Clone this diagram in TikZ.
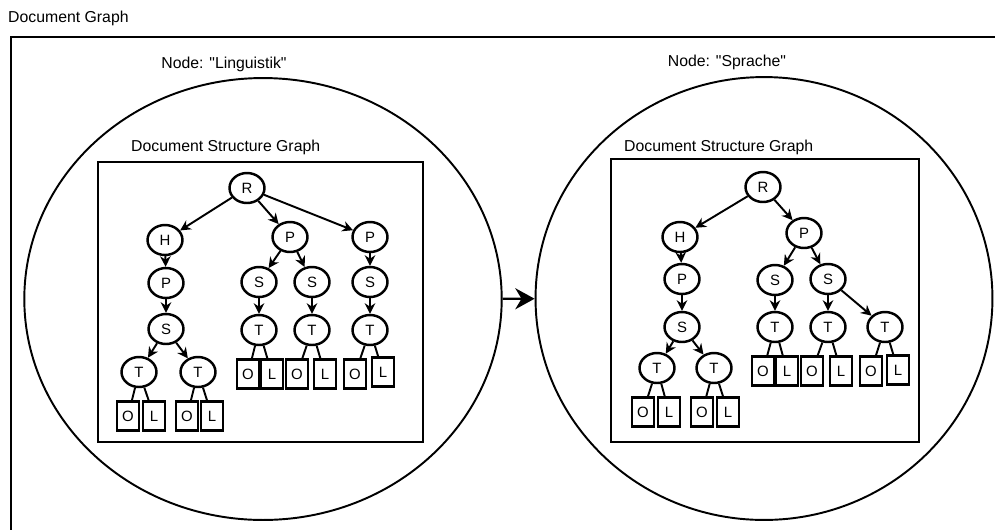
\documentclass[tikz,border=0pt]{standalone}
\usepackage{fontspec}
\setmainfont{Liberation Sans}[Ligatures=TeXOff]
\usetikzlibrary{shapes.geometric, arrows.meta}

\begin{document}
\begin{tikzpicture}[x=0.02cm, y=-0.02cm]
\tikzset{
tnode/.style={draw, ellipse, line width=1.4pt, inner sep=0pt, minimum width=0.7cm, minimum height=0.6cm, font=\fontsize{8.5}{9}\selectfont},
leaf/.style={draw, rectangle, line width=1.4pt, inner sep=0pt, minimum width=0.44cm, minimum height=0.58cm, font=\fontsize{8.5}{9}\selectfont},
bignode/.style={draw, ellipse, line width=1.1pt, inner sep=0pt},
dsgbox/.style={draw, line width=1.4pt},
arr/.style={-{Stealth[length=6pt, width=6pt]}, line width=1.1pt},
leafline/.style={line width=1.1pt},
title/.style={font=\fontsize{9}{11}\selectfont, anchor=west},
caption/.style={font=\fontsize{9}{11}\selectfont}
}

	% page and outer frame
	\useasboundingbox (0,0) rectangle (995,529);
	\clip (0,0) rectangle (995,529);
	\node[title] at (2,18) (dg) {Document Graph};
	\draw[dsgbox] (11,37) rectangle (1010,545);

	% the two graph nodes
	\node[bignode, minimum width=9.55cm, minimum height=8.84cm] at (263,299) (ling) {};
	\node[bignode, minimum width=9.14cm, minimum height=8.86cm] at (764,298.5) (spr) {};
	\node[caption] at (224,64) (lingcap) {Node: "Linguistik"};
	\node[caption] at (727,62) (sprcap) {Node: "Sprache"};
	\draw[-{Stealth[length=11pt, width=12pt]}, line width=1.3pt] (ling) -- (spr);

	% left structure graph
	\node[title] at (125,147) (ldsg) {Document Structure Graph};
	\draw[dsgbox] (98,162) rectangle (423,442);

	\node[tnode] at (247,188) (lR) {R};
	\node[tnode] at (165,240) (lH) {H};
	\node[tnode] at (290,237) (lP1) {P};
	\node[tnode] at (370,237) (lP2) {P};
	\node[tnode] at (166,283) (lP0) {P};
	\node[tnode] at (259,282) (lS1) {S};
	\node[tnode] at (312,282) (lS2) {S};
	\node[tnode] at (370,282) (lS3) {S};
	\node[tnode] at (166,329) (lS0) {S};
	\node[tnode] at (259,330) (lT1) {T};
	\node[tnode] at (312,330) (lT2) {T};
	\node[tnode] at (370,330) (lT3) {T};
	\node[tnode] at (139,372) (lTa) {T};
	\node[tnode] at (198,372) (lTb) {T};

	\node[leaf] at (128,416) (lOa) {O};
	\node[leaf] at (154,416) (lLa) {L};
	\node[leaf] at (187,416) (lOb) {O};
	\node[leaf] at (212,416) (lLb) {L};
	\node[leaf] at (248,374) (lO1) {O};
	\node[leaf] at (272,374) (lL1) {L};
	\node[leaf] at (297,374) (lO2) {O};
	\node[leaf] at (325,374) (lL2) {L};
	\node[leaf] at (355,374) (lO3) {O};
	\node[leaf] at (383,372) (lL3) {L};

	\draw[arr] (lR) -- (lH);
	\draw[arr] (lR) -- (lP1);
	\draw[arr] (lR) -- (lP2);
	\draw[arr] (lH) -- (lP0);
	\draw[arr] (lP0) -- (lS0);
	\draw[arr] (lS0) -- (lTa);
	\draw[arr] (lS0) -- (lTb);
	\draw[arr] (lP1) -- (lS1);
	\draw[arr] (lP1) -- (lS2);
	\draw[arr] (lP2) -- (lS3);
	\draw[arr] (lS1) -- (lT1);
	\draw[arr] (lS2) -- (lT2);
	\draw[arr] (lS3) -- (lT3);

	\draw[leafline] (lTa) -- (lOa);
	\draw[leafline] (lTa) -- (lLa);
	\draw[leafline] (lTb) -- (lOb);
	\draw[leafline] (lTb) -- (lLb);
	\draw[leafline] (lT1) -- (lO1);
	\draw[leafline] (lT1) -- (lL1);
	\draw[leafline] (lT2) -- (lO2);
	\draw[leafline] (lT2) -- (lL2);
	\draw[leafline] (lT3) -- (lO3);
	\draw[leafline] (lT3) -- (lL3);

	% right structure graph
	\node[title] at (618,147) (rdsg) {Document Structure Graph};
	\draw[dsgbox] (611,159) rectangle (919,442);

	\node[tnode] at (763,187) (rR) {R};
	\node[tnode] at (680,237) (rH) {H};
	\node[tnode] at (804,233) (rP1) {P};
	\node[tnode] at (682,279) (rP0) {P};
	\node[tnode] at (775,280) (rS1) {S};
	\node[tnode] at (828,279) (rS2) {S};
	\node[tnode] at (682,327) (rS0) {S};
	\node[tnode] at (775,327) (rT1) {T};
	\node[tnode] at (828,327) (rT2) {T};
	\node[tnode] at (885,327) (rT3) {T};
	\node[tnode] at (657,368) (rTa) {T};
	\node[tnode] at (714,368) (rTb) {T};

	\node[leaf] at (643,412) (rOa) {O};
	\node[leaf] at (669,412) (rLa) {L};
	\node[leaf] at (702,412) (rOb) {O};
	\node[leaf] at (728,412) (rLb) {L};
	\node[leaf] at (763,371) (rO1) {O};
	\node[leaf] at (787,371) (rL1) {L};
	\node[leaf] at (812,371) (rO2) {O};
	\node[leaf] at (841,371) (rL2) {L};
	\node[leaf] at (871,371) (rO3) {O};
	\node[leaf] at (898,370) (rL3) {L};

	\draw[arr] (rR) -- (rH);
	\draw[arr] (rR) -- (rP1);
	\draw[arr] (rH) -- (rP0);
	\draw[arr] (rP0) -- (rS0);
	\draw[arr] (rS0) -- (rTa);
	\draw[arr] (rS0) -- (rTb);
	\draw[arr] (rP1) -- (rS1);
	\draw[arr] (rP1) -- (rS2);
	\draw[arr] (rS1) -- (rT1);
	\draw[arr] (rS2) -- (rT2);
	\draw[arr] (rS2) -- (rT3);

	\draw[leafline] (rTa) -- (rOa);
	\draw[leafline] (rTa) -- (rLa);
	\draw[leafline] (rTb) -- (rOb);
	\draw[leafline] (rTb) -- (rLb);
	\draw[leafline] (rT1) -- (rO1);
	\draw[leafline] (rT1) -- (rL1);
	\draw[leafline] (rT2) -- (rO2);
	\draw[leafline] (rT2) -- (rL2);
	\draw[leafline] (rT3) -- (rO3);
	\draw[leafline] (rT3) -- (rL3);

\end{tikzpicture}
\end{document}
